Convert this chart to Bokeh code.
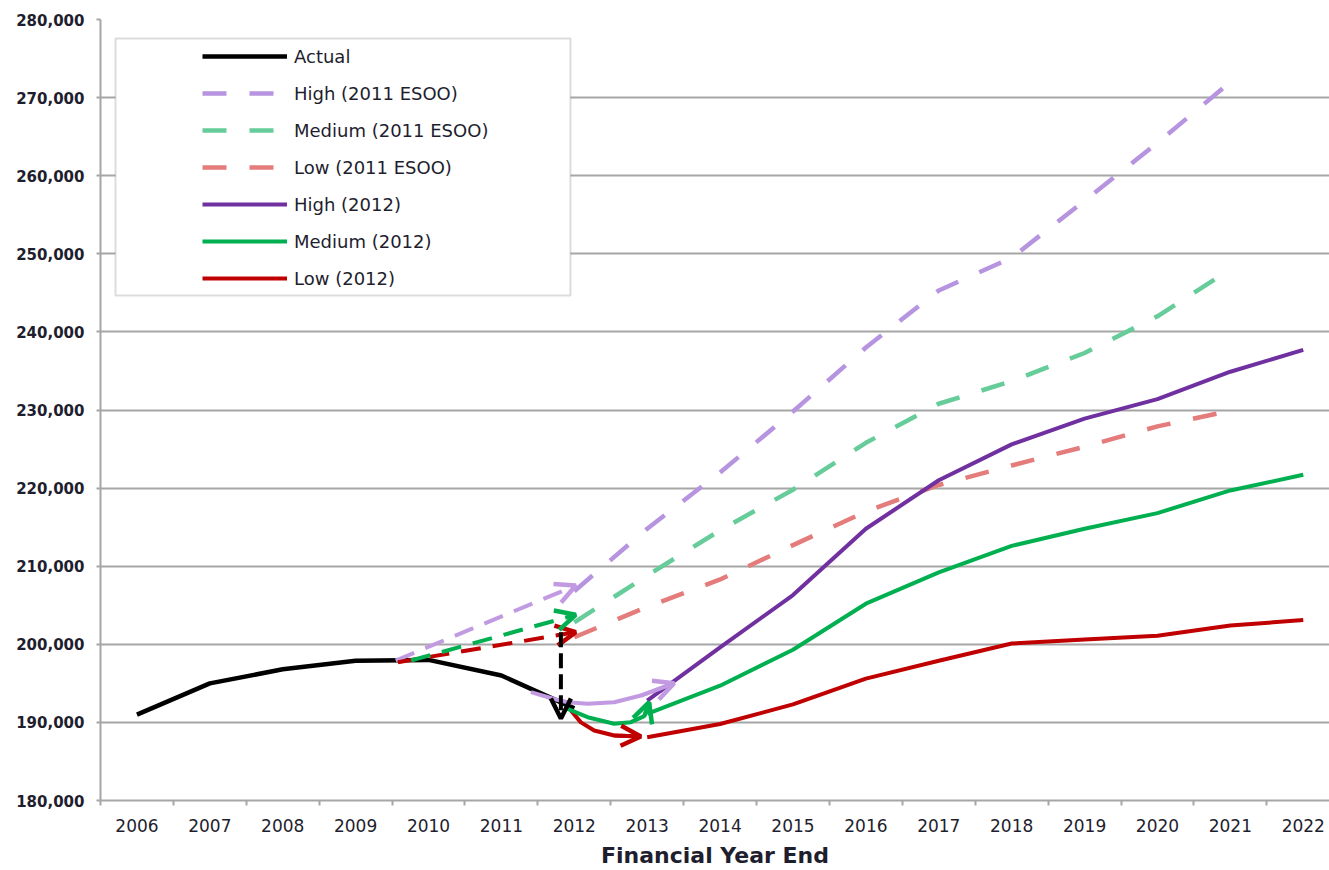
from bokeh.plotting import figure
from bokeh.models import (Range1d, FixedTicker, NumeralTickFormatter, Legend, LegendItem,
                          Arrow, OpenHead, BoxAnnotation)
from bokeh.embed import file_html
from bokeh.resources import INLINE

# ---------------- data ----------------
tick_years = list(range(2006, 2023))
y_ticks = list(range(180000, 280001, 10000))

years_actual = [2006, 2007, 2008, 2009, 2010, 2011, 2012]
actual = [191000, 195000, 196800, 197900, 198000, 196000, 191800]

years_esoo = list(range(2012, 2022))
high_esoo = [206800, 214800, 222000, 229800, 238000, 245300, 249500, 256800, 264200, 272000]
medium_esoo = [202800, 208800, 214600, 219800, 225800, 230800, 233700, 237300, 242000, 248000]
low_esoo = [200900, 204800, 208300, 212700, 217000, 220400, 222900, 225300, 227900, 229900]

years_2012 = list(range(2013, 2023))
high_2012 = [192800, 199600, 206300, 214800, 221000, 225600, 228900, 231400, 234900, 237700]
medium_2012 = [191100, 194700, 199300, 205200, 209200, 212600, 214800, 216800, 219700, 221700]
low_2012 = [188100, 189800, 192300, 195600, 197900, 200100, 200600, 201100, 202400, 203100]

labels = ["Actual", "High (2011 ESOO)", "Medium (2011 ESOO)", "Low (2011 ESOO)",
          "High (2012)", "Medium (2012)", "Low (2012)"]

# annotation arrows (hand-drawn in the original)
dash_arrow_x = [2009.55, 2009.76, 2009.58]
dash_arrow_y0 = [197925, 197925, 197710]
dash_arrow_x1 = [2012.02, 2012.02, 2012.02]
dash_arrow_y1 = [207530, 203775, 201550]
drop_x = 2011.816
drop_y = [201550, 190500]

curve_high_x = [2011.405, 2011.724, 2011.908, 2012.182, 2012.547, 2012.913, 2013.37]
curve_high_y = [193867, 193000, 192587, 192381, 192587, 193444, 195019]
curve_med_x = [2011.908, 2012.182, 2012.547, 2012.776, 2012.96, 2013.027]
curve_med_y = [191741, 190666, 189821, 190026, 190800, 192587]
curve_low_x = [2011.953, 2012.09, 2012.273, 2012.547, 2012.913]
curve_low_y = [191524, 190000, 188963, 188323, 188195]

# ---------------- style ----------------
C_ACTUAL = "#000000"
C_HIGH_E = "#b794e0"
C_MED_E = "#66cc99"
C_LOW_E = "#e47c7c"
C_HIGH = "#7030a0"
C_MED = "#00b050"
C_LOW = "#c00000"
C_ANN_HIGH = "#c29ae2"
GRID = "#a6a6a6"
FONT = "DejaVu Sans"
TXT = "#1e1e2e"

p = figure(frame_width=1229, frame_height=781,
           x_range=Range1d(2005.5, 2022.36), y_range=Range1d(180000, 280000),
           output_backend="svg", toolbar_location=None,
           min_border_left=100, min_border_right=0, min_border_top=19, min_border_bottom=10)
p.background_fill_color = "white"
p.border_fill_color = "white"
p.outline_line_color = None

p.xgrid.visible = False
p.ygrid.ticker = FixedTicker(ticks=y_ticks)
p.ygrid.grid_line_color = GRID
p.ygrid.grid_line_width = 2

# y axis
p.yaxis.ticker = FixedTicker(ticks=y_ticks)
p.yaxis.formatter = NumeralTickFormatter(format="0,0")
p.yaxis.axis_line_color = GRID
p.yaxis.axis_line_width = 2
p.yaxis.major_tick_line_color = GRID
p.yaxis.major_tick_line_width = 2
p.yaxis.major_tick_out = 4
p.yaxis.major_tick_in = 0
p.yaxis.minor_tick_line_color = None
p.yaxis.major_label_standoff = 12
p.yaxis.major_label_text_font = FONT
p.yaxis.major_label_text_font_style = "bold"
p.yaxis.major_label_text_font_size = "15px"
p.yaxis.major_label_text_color = TXT

# x axis
p.xaxis.ticker = FixedTicker(ticks=tick_years, minor_ticks=[y - 0.5 for y in tick_years] + [2022.5])
p.xaxis.major_label_overrides = {y: str(y) for y in tick_years}
p.xaxis.axis_line_color = GRID
p.xaxis.axis_line_width = 2
p.xaxis.major_tick_line_color = None
p.xaxis.major_tick_out = 0
p.xaxis.major_tick_in = 0
p.xaxis.minor_tick_line_color = GRID
p.xaxis.minor_tick_line_width = 2
p.xaxis.minor_tick_out = 5
p.xaxis.minor_tick_in = 0
p.xaxis.major_label_standoff = 13
p.xaxis.major_label_text_font = FONT
p.xaxis.major_label_text_font_size = "17px"
p.xaxis.major_label_text_color = TXT
p.xaxis.axis_label = "Financial Year End"
p.xaxis.axis_label_text_font = FONT
p.xaxis.axis_label_text_font_style = "bold"
p.xaxis.axis_label_text_font_size = "22px"
p.xaxis.axis_label_text_color = TXT
p.xaxis.axis_label_standoff = 8

# ---------------- series ----------------
DASH = "24 23"
r_he = p.line(years_esoo, high_esoo, line_color=C_HIGH_E, line_width=4.5, line_dash=DASH)
r_me = p.line(years_esoo, medium_esoo, line_color=C_MED_E, line_width=4.5, line_dash=DASH)
r_le = p.line(years_esoo, low_esoo, line_color=C_LOW_E, line_width=4.5, line_dash=DASH)
r_h = p.line(years_2012, high_2012, line_color=C_HIGH, line_width=4)
r_m = p.line(years_2012, medium_2012, line_color=C_MED, line_width=4)
r_l = p.line(years_2012, low_2012, line_color=C_LOW, line_width=4)
r_a = p.line(years_actual, actual, line_color=C_ACTUAL, line_width=4.5)


def head(col):
    return OpenHead(size=20, line_color=col, line_width=4.5, line_dash="solid")


# ---------------- annotations ----------------
for xs, ys, col in [(curve_low_x, curve_low_y, C_LOW), (curve_med_x, curve_med_y, C_MED),
                    (curve_high_x, curve_high_y, C_ANN_HIGH)]:
    p.line(xs, ys, line_color=col, line_width=4)
    p.add_layout(Arrow(end=head(col),
                       x_start=xs[-2], y_start=ys[-2], x_end=xs[-1], y_end=ys[-1],
                       line_color=col, line_width=4))

for col, j in [(C_ANN_HIGH, 0), (C_LOW, 2), (C_MED, 1)]:
    # dashed shaft
    p.add_layout(Arrow(end=None,
                       x_start=dash_arrow_x[j], y_start=dash_arrow_y0[j],
                       x_end=dash_arrow_x1[j], y_end=dash_arrow_y1[j],
                       line_color=col, line_width=4, line_dash="20 12"))
    # solid open head
    slope = (dash_arrow_y1[j] - dash_arrow_y0[j]) / (dash_arrow_x1[j] - dash_arrow_x[j])
    p.add_layout(Arrow(end=head(col),
                       x_start=dash_arrow_x1[j] - 0.02, y_start=dash_arrow_y1[j] - slope * 0.02,
                       x_end=dash_arrow_x1[j], y_end=dash_arrow_y1[j],
                       line_color=col, line_width=4))

p.add_layout(Arrow(end=None,
                   x_start=drop_x, y_start=drop_y[0], x_end=drop_x, y_end=drop_y[1],
                   line_color="black", line_width=4, line_dash="15 6"))
p.add_layout(Arrow(end=head("black"),
                   x_start=drop_x, y_start=drop_y[1] + 300, x_end=drop_x, y_end=drop_y[1],
                   line_color="black", line_width=4))

# legend frame
box = BoxAnnotation(left=2005.5 + 15 / 72.9, right=2005.5 + 470 / 72.9,
                    top=280000 - 19 * 128.04, bottom=280000 - 276 * 128.04,
                    fill_color="white", fill_alpha=1.0,
                    line_color="#8c8c8c", line_width=2)
p.add_layout(box)

renderers = [r_a, r_he, r_me, r_le, r_h, r_m, r_l]
legend = Legend(items=[LegendItem(label=l, renderers=[r]) for l, r in zip(labels, renderers)],
                location=(102, 510), padding=0, margin=0, spacing=13,
                glyph_width=85, glyph_height=24, label_height=24, label_standoff=7,
                label_text_font=FONT, label_text_font_size="18px", label_text_color=TXT,
                background_fill_alpha=0, border_line_alpha=0)
p.add_layout(legend)

open("out.html", "w").write(file_html(p, INLINE))
